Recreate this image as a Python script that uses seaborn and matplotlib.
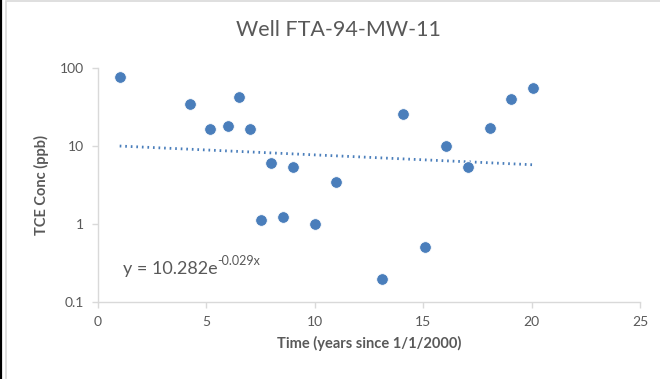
import numpy as np
import pandas as pd
import matplotlib
matplotlib.use("Agg")
import matplotlib.pyplot as plt
import seaborn as sns
from matplotlib.patches import Rectangle
from matplotlib.lines import Line2D

# ---- data ----
time_years = [1.0, 4.24, 5.16, 5.99, 6.5, 7.0, 7.51, 7.97, 8.53, 8.99,
              10.0, 10.97, 13.09, 14.06, 15.07, 16.04, 17.05, 18.06, 19.03, 20.05]
tce_ppb = [76.0, 34.5, 16.3, 18.0, 42.0, 16.3, 1.12, 6.05, 1.22, 5.35,
           1.0, 3.45, 0.2, 25.5, 0.5, 10.0, 5.4, 17.2, 39.5, 55.0]
trend_a = 10.282
trend_b = -0.029
title = "Well FTA-94-MW-11"
x_label = "Time (years since 1/1/2000)"
y_label = "TCE Conc (ppb)"
x_ticks = [0, 5, 10, 15, 20, 25]
y_ticks = [0.1, 1, 10, 100]
y_tick_labels = ["0.1", "1", "10", "100"]
eq_main = "y = 10.282e"
eq_sup = "-0.029x"

df = pd.DataFrame({"t": time_years, "c": tce_ppb})
t_line = np.linspace(min(time_years), max(time_years), 50)
trend_df = pd.DataFrame({"t": t_line, "c": trend_a * np.exp(trend_b * t_line)})

sns.set_theme(style="white")
plt.rcParams["font.family"] = ["Lato", "DejaVu Sans"]

grey_txt = "#595959"
axis_col = "#D9D9D9"
blue = "#4A7EBB"

fig = plt.figure(figsize=(6.6, 3.79), dpi=100)
ax = fig.add_axes([98 / 660, 1 - 302 / 379, (640 - 98) / 660, (302 - 68) / 379])

sns.lineplot(data=trend_df, x="t", y="c", ax=ax, color=blue, linewidth=2.0,
             linestyle=(0, (0.6, 1.4)), dash_capstyle="butt")
sns.scatterplot(data=df, x="t", y="c", ax=ax, color=blue, s=70,
                edgecolor="white", linewidth=0.6, zorder=3)

ax.set_yscale("log")
ax.set_xlim(0, 25)
ax.set_ylim(0.1, 100)
ax.set_xticks(x_ticks)
ax.set_xticklabels([str(v) for v in x_ticks])
ax.set_yticks(y_ticks)
ax.set_yticklabels(y_tick_labels)
ax.yaxis.set_minor_locator(matplotlib.ticker.NullLocator())

for s in ["top", "right"]:
    ax.spines[s].set_visible(False)
for s in ["left", "bottom"]:
    ax.spines[s].set_color(axis_col)
    ax.spines[s].set_linewidth(1.0)

ax.tick_params(axis="both", which="major", direction="out", length=4, width=1,
               color=axis_col, labelcolor=grey_txt, labelsize=10, pad=6,
               bottom=True, left=True)

ax.set_xlabel(x_label, fontsize=10.5, fontweight="bold", color=grey_txt, labelpad=6)
ax.set_ylabel(y_label, fontsize=10.5, fontweight="bold", color=grey_txt, labelpad=8)

fig.text(338 / 660, 1 - 30 / 379, title, ha="center", va="center",
         fontsize=15.5, color=grey_txt)

t_main = ax.text(1.15, 0.265, eq_main, fontsize=13,
                 color=grey_txt, ha="left", va="center")
ax.annotate(eq_sup, xy=(1.0, 0.62), xycoords=t_main, fontsize=9,
            color=grey_txt, ha="left", va="bottom")

# chart border and left black edge
fig.patches.append(Rectangle((6 / 660, -0.01), 1.0, 1 - 1 / 379 + 0.01,
                             transform=fig.transFigure, fill=False,
                             edgecolor="#D9D9D9", linewidth=1.2))
fig.lines.append(Line2D([1 / 660, 1 / 660], [0, 1], transform=fig.transFigure,
                        color="black", linewidth=1.6))

fig.savefig("out.png", dpi=100, facecolor="white")
